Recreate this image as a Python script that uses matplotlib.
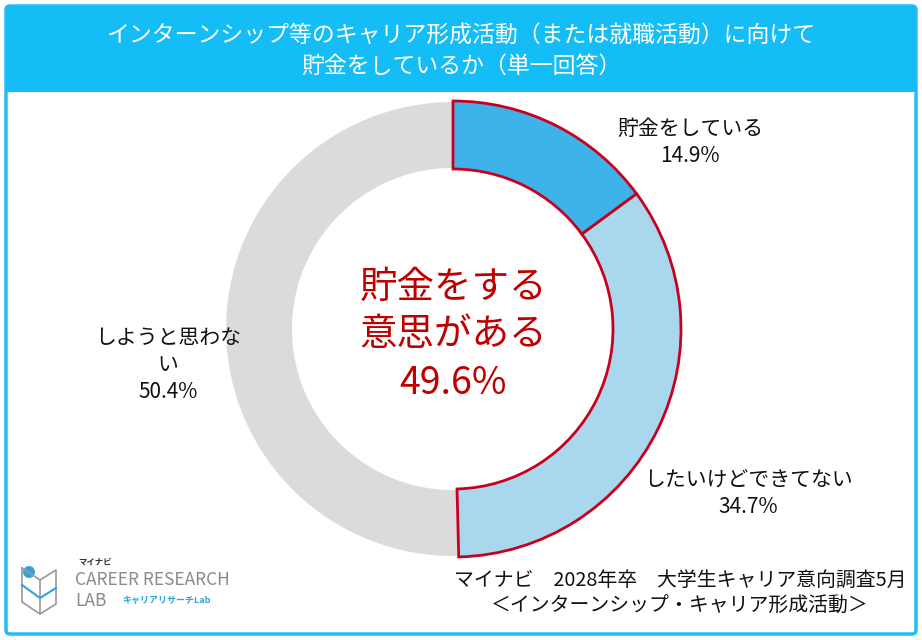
import matplotlib.pyplot as plt
from matplotlib.patches import FancyBboxPatch, Rectangle, Circle

plt.rcParams['font.family'] = ['Noto Sans CJK JP', 'DejaVu Sans']

# DATA
title = "インターンシップ等のキャリア形成活動（または就職活動）に向けて\n貯金をしているか（単一回答）"
categories = ["貯金をしている", "したいけどできてない", "しようと思わな\nい"]
values = [14.9, 34.7, 50.4]
colors = ["#3db3ea", "#a9d8ee", "#dddadd"]
center_text = "貯金をする\n意思がある\n49.6%"
source_lines = ["マイナビ　2028年卒　大学生キャリア意向調査5月", "＜インターンシップ・キャリア形成活動＞"]

W, H = 922, 640
fig = plt.figure(figsize=(W / 100, H / 100), dpi=100)
ax = fig.add_axes([0, 0, 1, 1])

# donut
cx, cy, r = 453, H - 329, 228
wedges, _ = ax.pie(values, colors=colors, startangle=90, counterclock=False,
                   center=(cx, cy), radius=r, frame=True,
                   wedgeprops=dict(width=68, linewidth=2, edgecolor="white"))
for w in wedges[:2]:
    w.set_edgecolor("#c8001e")
    w.set_linewidth(2)
    w.set_zorder(3)
wedges[2].set_linewidth(1.5)
ax.set_xlim(0, W)
ax.set_ylim(0, H)
ax.set_aspect("equal")
ax.axis("off")

# frame + title bar
frame = FancyBboxPatch((6, 6), W - 12, H - 12, boxstyle="round,pad=0,rounding_size=4",
                       fc="white", ec="#22bdf2", lw=2.5, zorder=0)
ax.add_patch(frame)
ax.add_patch(Rectangle((6, H - 92), W - 12, 86, fc="#14bdf6", ec="none", zorder=1))
ax.text(W / 2, H - 51, title, ha="center", va="center", color="white",
        fontsize=16.5, linespacing=1.4, zorder=2)

ax.text(cx, H - 335, center_text, ha="center", va="center", color="#c00000",
        fontsize=27, linespacing=1.3, zorder=4)

label_pos = [(690, H - 142), (748, H - 493), (168, H - 365)]
for (lx, ly), cat, v in zip(label_pos, categories, values):
    ax.text(lx, ly, f"{cat}\n{v}%", ha="center", va="center", fontsize=15,
            color="#111111", linespacing=1.3)

# source
ax.text(680, H - 580, source_lines[0], ha="center", va="center", fontsize=14.3, color="#111111")
ax.text(680, H - 606, source_lines[1], ha="center", va="center", fontsize=14.3, color="#111111")

# logo
ax.plot([22, 40, 40, 22, 22], [H - 568, H - 580, H - 614, H - 602, H - 568], color="#9a9a9a", lw=1.2)
ax.plot([40, 56, 56, 40], [H - 580, H - 570, H - 604, H - 614], color="#9a9a9a", lw=1.2)
ax.plot([22, 40, 56], [H - 585, H - 598, H - 588], color="#2fa3da", lw=1.5)
ax.add_patch(Circle((29, H - 572), 6, fc="#2fa3da", ec="none"))
ax.text(78, H - 562, "マイナビ", fontsize=6, fontweight="bold", color="#333333", va="center")
ax.text(75, H - 580, "CAREER RESEARCH", fontsize=12.5, color="#8a8a8a", va="center")
ax.text(75, H - 601, "LAB", fontsize=12.5, color="#8a8a8a", va="center")
ax.text(122, H - 601, "キャリアリサーチLab", fontsize=6.5, fontweight="bold", color="#2fa3da", va="center")

fig.savefig("out.png", dpi=100)
